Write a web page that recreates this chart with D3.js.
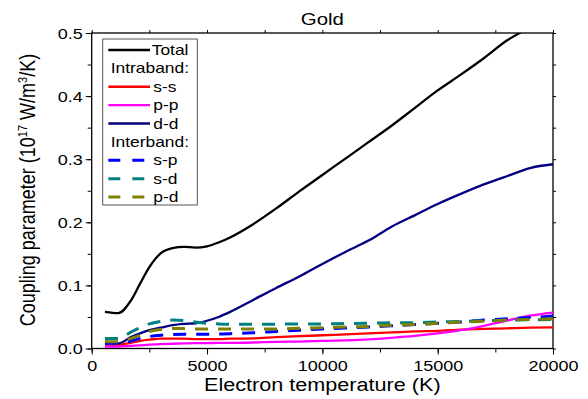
<!DOCTYPE html>
<html>
<head>
<meta charset="utf-8">
<script src="https://cdn.jsdelivr.net/npm/d3@7"></script>
<style>
  body { margin: 0; background: #fff; }
  svg { display: block; font-family: "Liberation Sans", Arial, sans-serif; }
</style>
</head>
<body>
<svg id="chart" width="588" height="399"></svg>
<script>
// electron temperature grid (K)
const temperature = [575, 1150, 1700, 2100, 2500, 3000, 3500, 4000, 4500, 5000, 5500, 6000, 7000, 8000,
  9000, 10000, 11000, 12000, 13000, 14000, 15000, 16000, 17000, 18000, 19000, 20000];

// coupling parameter, 10^17 W/m^3/K
const total = [0.058, 0.056, 0.076, 0.103, 0.129, 0.151, 0.159, 0.161, 0.160, 0.162, 0.168, 0.176, 0.197, 0.222,
  0.249, 0.275, 0.301, 0.327, 0.353, 0.381, 0.409, 0.434, 0.460, 0.488, 0.509, 0.532];
const ss = [0.006, 0.006, 0.009, 0.012, 0.014, 0.0155, 0.0155, 0.0155, 0.015, 0.015, 0.015, 0.0155, 0.016, 0.018,
  0.0195, 0.021, 0.0225, 0.024, 0.0255, 0.027, 0.028, 0.030, 0.031, 0.032, 0.033, 0.0335];
const pp = [0.003, 0.003, 0.004, 0.005, 0.006, 0.007, 0.0075, 0.008, 0.0085, 0.0085, 0.009, 0.009, 0.0095, 0.0105,
  0.011, 0.012, 0.013, 0.0145, 0.017, 0.020, 0.024, 0.029, 0.036, 0.044, 0.052, 0.057];
const dd = [0.009, 0.008, 0.018, 0.024, 0.029, 0.033, 0.037, 0.039, 0.040, 0.044, 0.050, 0.058, 0.077, 0.096,
  0.114, 0.134, 0.153, 0.171, 0.193, 0.211, 0.229, 0.245, 0.260, 0.273, 0.286, 0.292];
const sp = [0.008, 0.009, 0.012, 0.016, 0.019, 0.021, 0.022, 0.0225, 0.0225, 0.0225, 0.023, 0.0235, 0.025, 0.027,
  0.029, 0.031, 0.0325, 0.034, 0.036, 0.038, 0.040, 0.042, 0.045, 0.047, 0.049, 0.0515];
const sd = [0.016, 0.016, 0.026, 0.033, 0.039, 0.043, 0.045, 0.0445, 0.042, 0.040, 0.039, 0.0385, 0.0385, 0.0385,
  0.039, 0.039, 0.0395, 0.040, 0.041, 0.041, 0.042, 0.043, 0.044, 0.045, 0.0455, 0.046];
const pd = [0.011, 0.0105, 0.016, 0.021, 0.027, 0.030, 0.0315, 0.0315, 0.031, 0.031, 0.031, 0.031, 0.031, 0.031,
  0.032, 0.033, 0.034, 0.035, 0.037, 0.038, 0.040, 0.042, 0.043, 0.045, 0.046, 0.047];

const xTicks = [0, 5000, 10000, 15000, 20000];
const yTicks = [0.0, 0.1, 0.2, 0.3, 0.4, 0.5];

const series = [
  { name: 'Total', values: total, color: '#000000', dash: null },
  { name: 's-s', values: ss, color: '#ff0000', dash: null },
  { name: 'p-p', values: pp, color: '#ff00ff', dash: null },
  { name: 'd-d', values: dd, color: '#000080', dash: null },
  { name: 's-p', values: sp, color: '#0000ff', dash: '13,10' },
  { name: 's-d', values: sd, color: '#008080', dash: '13,10' },
  { name: 'p-d', values: pd, color: '#808000', dash: '13,10' },
];

const svg = d3.select('#chart');
const margin = { top: 33, right: 35, bottom: 50.5, left: 91.7 };
const width = 588, height = 399;
const innerWidth = width - margin.left - margin.right;
const innerHeight = height - margin.top - margin.bottom;
const sx = 1.2; // text in the reference is horizontally stretched

// widen horizontal text glyphs without moving its anchor
function stretch(sel) {
  sel.each(function () {
    const w = this.getComputedTextLength();
    d3.select(this).attr('textLength', w * sx).attr('lengthAdjust', 'spacingAndGlyphs');
  });
}

const xScale = d3.scaleLinear().domain([0, 20000]).range([0, innerWidth]);
const yScale = d3.scaleLinear().domain([0, 0.5]).range([innerHeight, 0]);

const grp = svg.append('g')
  .attr('transform', 'translate(' + margin.left + ',' + margin.top + ')');

grp.append('clipPath').attr('id', 'plot-clip')
  .append('rect').attr('width', innerWidth).attr('height', innerHeight);

const xMinor = d3.range(0, 20001, 2500);
const yMinor = d3.range(0, 0.5001, 0.05);

function styleAxis(g) {
  g.select('.domain').remove();
  g.selectAll('line').attr('stroke', '#000').attr('stroke-width', 1);
}
function tickOnly(g) {
  styleAxis(g);
  g.selectAll('text').remove();
}

// minor ticks
grp.append('g').attr('transform', 'translate(0,' + innerHeight + ')')
  .call(d3.axisBottom(xScale).tickValues(xMinor).tickSize(4))
  .call(tickOnly);
grp.append('g')
  .call(d3.axisLeft(yScale).tickValues(yMinor).tickSize(4))
  .call(tickOnly);
grp.append('g')
  .call(d3.axisTop(xScale).tickValues(xMinor).tickSize(3))
  .call(tickOnly);
grp.append('g').attr('transform', 'translate(' + innerWidth + ',0)')
  .call(d3.axisRight(yScale).tickValues(yMinor).tickSize(3))
  .call(tickOnly);

// major ticks with labels
grp.append('g').attr('transform', 'translate(0,' + innerHeight + ')')
  .call(d3.axisBottom(xScale).tickValues(xTicks).tickSize(6).tickPadding(6).tickFormat(d3.format('d')))
  .call(styleAxis)
  .selectAll('text')
  .attr('font-size', 15).attr('fill', '#000').attr('font-family', null)
  .call(stretch);

grp.append('g')
  .call(d3.axisLeft(yScale).tickValues(yTicks).tickSize(6).tickPadding(3).tickFormat(d3.format('.1f')))
  .call(styleAxis)
  .selectAll('text')
  .attr('font-size', 15).attr('fill', '#000').attr('font-family', null)
  .attr('dy', '0.35em')
  .call(stretch);

// frame
grp.append('rect')
  .attr('width', innerWidth).attr('height', innerHeight)
  .attr('fill', 'none').attr('stroke', '#000').attr('stroke-width', 1.3);

// curves
const line = d3.line()
  .x((d, i) => xScale(temperature[i]))
  .y((d) => yScale(d))
  .curve(d3.curveMonotoneX);

grp.append('g').attr('clip-path', 'url(#plot-clip)')
  .selectAll('path')
  .data(series)
  .enter()
  .append('path')
  .attr('d', (s) => line(s.values))
  .attr('fill', 'none')
  .attr('stroke', (s) => s.color)
  .attr('stroke-width', (s) => (s.dash ? 3 : 2.3))
  .attr('stroke-dasharray', (s) => s.dash);

// title + axis labels
svg.append('text')
  .attr('x', margin.left + innerWidth / 2).attr('y', 25)
  .attr('text-anchor', 'middle').attr('font-size', 17)
  .text('Gold')
  .call(stretch);

svg.append('text')
  .attr('x', margin.left + innerWidth / 2).attr('y', 391)
  .attr('text-anchor', 'middle').attr('font-size', 18)
  .text('Electron temperature (K)')
  .call(stretch);

const yLabel = svg.append('g').attr('transform', 'translate(35,190)')
  .append('text')
  .attr('transform', 'scale(' + sx + ',1) rotate(-90)')
  .attr('text-anchor', 'middle').attr('font-size', 18);
yLabel.append('tspan').text('Coupling parameter (10');
yLabel.append('tspan').attr('font-size', 11).attr('dy', -7).text('17');
yLabel.append('tspan').attr('dy', 7).text(' W/m');
yLabel.append('tspan').attr('font-size', 11).attr('dy', -7).text('3');
yLabel.append('tspan').attr('dy', 7).text('/K)');

// legend
const legend = svg.append('g').attr('transform', 'translate(102.7,39)');
legend.append('rect')
  .attr('width', 94.6).attr('height', 166)
  .attr('fill', '#fff').attr('stroke', '#555').attr('stroke-width', 1);

const legendRows = [
  { s: series[0] },
  { header: 'Intraband:' },
  { s: series[1] }, { s: series[2] }, { s: series[3] },
  { header: 'Interband:' },
  { s: series[4] }, { s: series[5] }, { s: series[6] },
];
const rowY = d3.scaleLinear().domain([0, 8]).range([11, 158]);

legendRows.forEach((r, i) => {
  const y = rowY(i);
  if (r.header) {
    legend.append('text')
      .attr('x', 8).attr('y', y + 5)
      .attr('font-size', 14.5).text(r.header)
      .call(stretch);
    return;
  }
  legend.append('line')
    .attr('x1', 5.6).attr('x2', 47.3).attr('y1', y).attr('y2', y)
    .attr('stroke', r.s.color)
    .attr('stroke-width', r.s.dash ? 3 : 2.3)
    .attr('stroke-dasharray', r.s.dash ? '12,12' : null);
  legend.append('text')
    .attr('x', i === 0 ? 49 : 50.5).attr('y', y + 5)
    .attr('font-size', 14.5).text(r.s.name)
    .call(stretch);
});
</script>
</body>
</html>
